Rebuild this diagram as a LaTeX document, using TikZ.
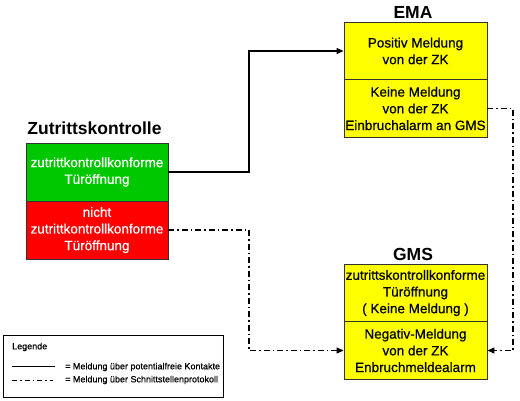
\documentclass[tikz,border=0pt]{standalone}
\usepackage{fontspec}
\setmainfont{Liberation Sans}
\newfontfamily\boxfont{Liberation Sans}[FakeBold=0.6]
\usetikzlibrary{arrows.meta}
\definecolor{zkgreen}{RGB}{0,200,0}
\definecolor{zkred}{RGB}{255,0,0}
\definecolor{zkyellow}{RGB}{255,255,0}
\definecolor{frame}{RGB}{50,50,50}
\begin{document}
\begin{tikzpicture}[x=1pt,y=-1pt,
  boxtext/.style={font=\boxfont\fontsize{13.5}{16.7}\selectfont, align=center},
  part/.style={draw=frame, line width=0.9pt, inner sep=0pt, boxtext},
  ZKgreen/.style={part, fill=zkgreen, text=white, minimum width=142pt, minimum height=58pt},
  ZKred/.style={part, fill=zkred, text=white, minimum width=142pt, minimum height=58pt},
  yel/.style={part, fill=zkyellow, text=black, minimum width=143pt, minimum height=57.5pt},
  title/.style={font=\fontsize{17.5}{20}\selectfont\bfseries},
  solidcon/.style={draw=black, line width=1.1pt},
  dashcon/.style={draw=black, line width=1.1pt, dash pattern=on 6pt off 3pt on 1.5pt off 3pt},
  tip/.style={-{Triangle[length=7pt,width=6pt]}},
  legtext/.style={font=\boxfont\fontsize{9}{10}\selectfont, anchor=west, inner sep=0pt}
]
\useasboundingbox (0,0) rectangle (520,400);
\fill[white] (0,0) rectangle (520,400);

% Zutrittskontrolle
\node[title] (zktitle) at (94.5,128) {Zutrittskontrolle};
\node[ZKgreen] (zkok) at (97,172) {zutrittkontrollkonforme\\Türöffnung};
\node[ZKred] (zknok) at (97,230) {nicht\\zutrittkontrollkonforme\\Türöffnung};

% EMA
\node[title] (ematitle) at (413,12.5) {EMA};
\node[yel] (emapos) at (415.5,51) {Positiv Meldung\\von der ZK};
\node[yel] (emaneg) at (415.5,108.5) {Keine Meldung\\von der ZK\\Einbruchalarm an GMS};

% GMS
\node[title] (gmstitle) at (413,254.5) {GMS};
\node[yel] (gmsok) at (415.5,293) {zutrittskontrollkonforme\\Türöffnung\\( Keine Meldung )};
\node[yel] (gmsneg) at (415.5,350.5) {Negativ-Meldung\\von der ZK\\Enbruchmeldealarm};

% connectors
\coordinate (c1) at (249,172);
\coordinate (c2) at (249,51);
\draw[solidcon, tip] (zkok.east) -- (c1) -- (c2) -- (emapos.west);

\coordinate (d1) at (249,230);
\coordinate (d2) at (249,350.5);
\draw[dashcon, tip] (zknok.east) -- (d1) -- (d2) -- (gmsneg.west);

\coordinate (e1) at (513,108.5);
\coordinate (e2) at (513,350.5);
\draw[dashcon, tip] (emaneg.east) -- (e1) -- (e2) -- (gmsneg.east);

% Legend
\node[draw=black, line width=0.9pt, minimum width=220pt, minimum height=62pt, inner sep=0pt] (legbox) at (113,366) {};
\node[legtext] (legtitle) at (12,347) {Legende};
\coordinate (l1a) at (12,366);
\coordinate (l1b) at (55,366);
\draw[draw=black, line width=0.9pt] (l1a) -- (l1b);
\node[legtext] (leg1) at (65,367) {= Meldung über potentialfreie Kontakte};
\coordinate (l2a) at (12,380);
\coordinate (l2b) at (53,380);
\draw[draw=black, line width=0.9pt, dash pattern=on 5pt off 3pt on 1.5pt off 3pt] (l2a) -- (l2b);
\node[legtext] (leg2) at (65,380) {= Meldung über Schnittstellenprotokoll};
\end{tikzpicture}
\end{document}
